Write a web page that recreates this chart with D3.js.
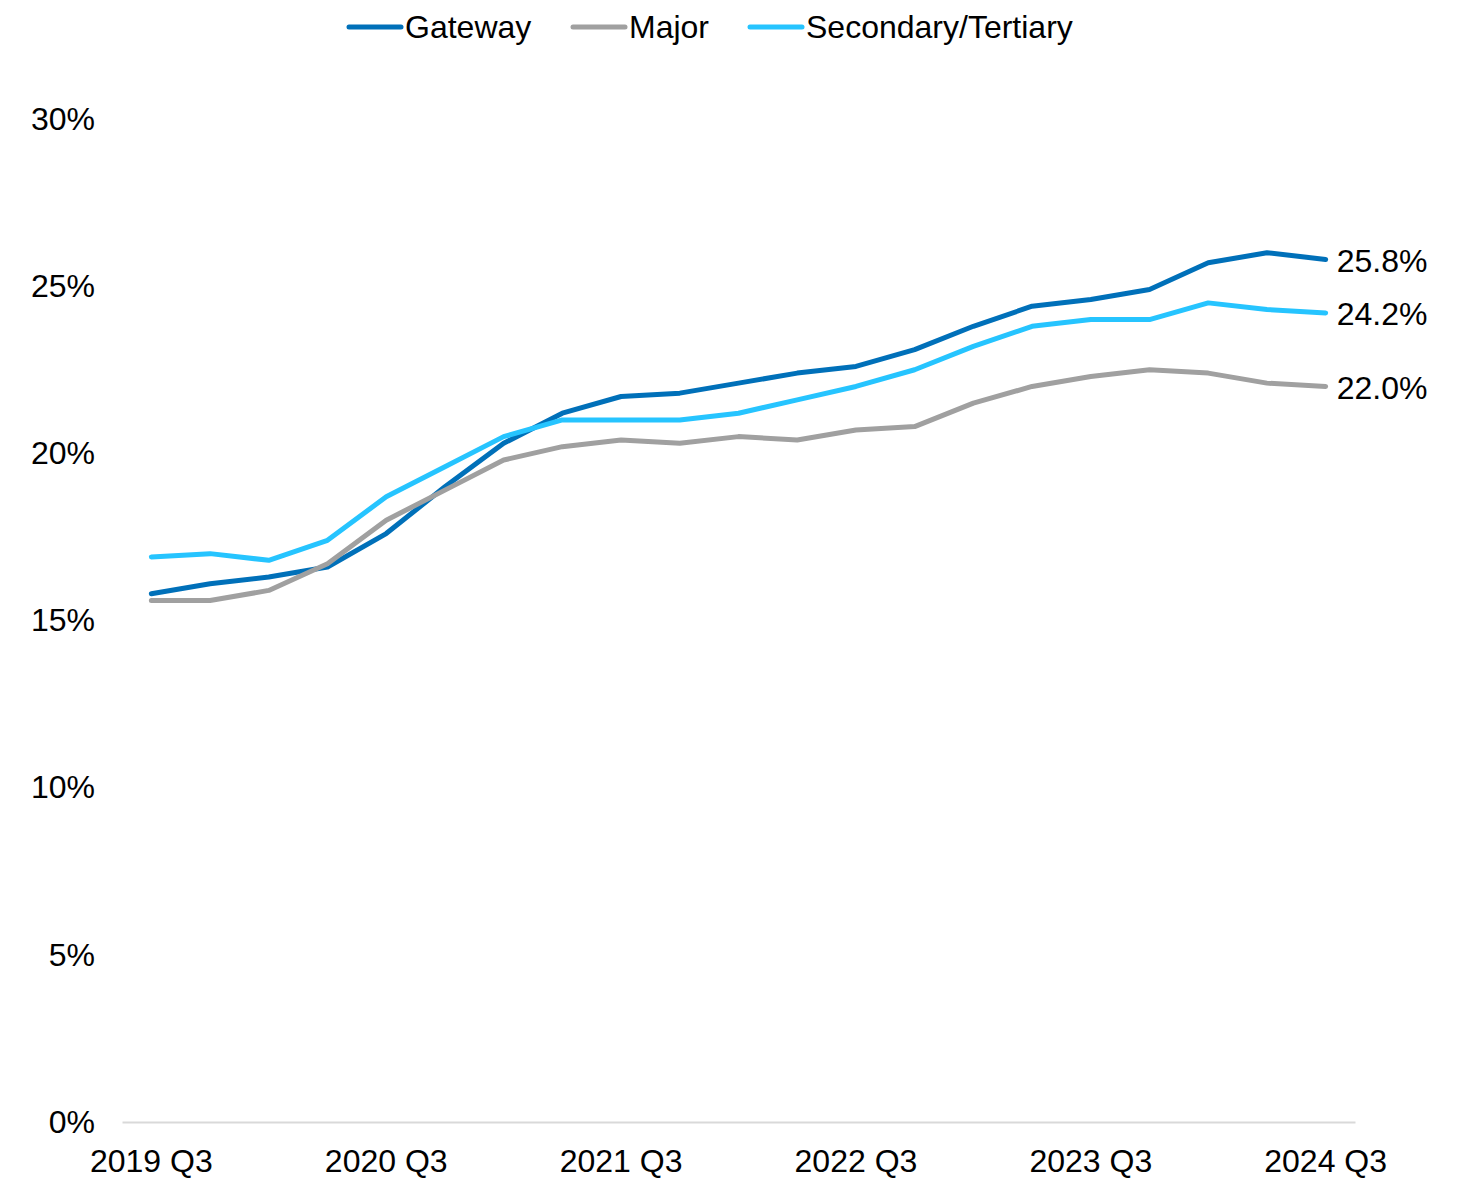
<!DOCTYPE html>
<html>
<head>
<meta charset="utf-8">
<script src="https://cdn.jsdelivr.net/npm/d3@7"></script>
<style>
  body { margin: 0; background: #fff; }
  text { font-family: "Liberation Sans", Arial, sans-serif; fill: #000; }
</style>
</head>
<body>
<div id="chart"></div>
<script>
// Quarters from 2019 Q3 to 2024 Q3
var quarters = ["2019 Q3", "2019 Q4", "2020 Q1", "2020 Q2", "2020 Q3", "2020 Q4",
                "2021 Q1", "2021 Q2", "2021 Q3", "2021 Q4", "2022 Q1", "2022 Q2",
                "2022 Q3", "2022 Q4", "2023 Q1", "2023 Q2", "2023 Q3", "2023 Q4",
                "2024 Q1", "2024 Q2", "2024 Q3"];

var gateway = [15.8, 16.1, 16.3, 16.6, 17.6, 19.0, 20.3, 21.2, 21.7, 21.8, 22.1,
               22.4, 22.6, 23.1, 23.8, 24.4, 24.6, 24.9, 25.7, 26.0, 25.8];
var major = [15.6, 15.6, 15.9, 16.7, 18.0, 18.9, 19.8, 20.2, 20.4, 20.3, 20.5,
             20.4, 20.7, 20.8, 21.5, 22.0, 22.3, 22.5, 22.4, 22.1, 22.0];
var secondary = [16.9, 17.0, 16.8, 17.4, 18.7, 19.6, 20.5, 21.0, 21.0, 21.0, 21.2,
                 21.6, 22.0, 22.5, 23.2, 23.8, 24.0, 24.0, 24.5, 24.3, 24.2];

var xTickLabels = ["2019 Q3", "2020 Q3", "2021 Q3", "2022 Q3", "2023 Q3", "2024 Q3"];
var yTicks = [0, 5, 10, 15, 20, 25, 30];

var series = [
  {name: "Gateway", values: gateway, color: "#0070b9"},
  {name: "Major", values: major, color: "#a0a0a0"},
  {name: "Secondary/Tertiary", values: secondary, color: "#26c4ff"}
];

var width = 1467, height = 1179;
var fontSize = 32;

var svg = d3.select("#chart").append("svg")
    .attr("width", width)
    .attr("height", height);

// Scales
var x = d3.scaleBand()
    .domain(quarters)
    .range([122, 1355])
    .padding(0);
var xc = function(q) { return x(q) + x.bandwidth() / 2; };

var y = d3.scaleLinear()
    .domain([0, 30])
    .range([1122, 119]);

// Baseline axis
var xAxis = svg.append("g")
    .attr("transform", "translate(0," + y(0) + ")")
    .call(d3.axisBottom(x).tickValues(xTickLabels).tickSize(0).tickPadding(27));
xAxis.select(".domain").attr("stroke", "#d9d9d9").attr("stroke-width", 2);
xAxis.selectAll("text")
    .style("font-size", fontSize + "px")
    .style("font-family", "'Liberation Sans', Arial, sans-serif")
    .attr("fill", "#000");

// Y axis labels
var yAxis = svg.append("g")
    .attr("transform", "translate(95,0)")
    .call(d3.axisLeft(y).tickValues(yTicks).tickSize(0).tickPadding(0)
      .tickFormat(function(d) { return d + "%"; }));
yAxis.select(".domain").remove();
yAxis.selectAll("text")
    .style("font-size", fontSize + "px")
    .style("font-family", "'Liberation Sans', Arial, sans-serif")
    .attr("fill", "#000");

// Lines
var line = d3.line()
    .x(function(d, i) { return xc(quarters[i]); })
    .y(function(d) { return y(d); });

svg.selectAll(".series")
    .data(series)
  .enter().append("path")
    .attr("class", "series")
    .attr("fill", "none")
    .attr("stroke", function(d) { return d.color; })
    .attr("stroke-width", 5)
    .attr("stroke-linecap", "round")
    .attr("stroke-linejoin", "round")
    .attr("d", function(d) { return line(d.values); });

// End labels
var last = quarters.length - 1;
svg.selectAll(".end-label")
    .data(series)
  .enter().append("text")
    .attr("class", "end-label")
    .attr("x", xc(quarters[last]) + 11)
    .attr("y", function(d) { return y(d.values[last]) + 1; })
    .attr("dy", "0.35em")
    .style("font-size", fontSize + "px")
    .text(function(d) { return d.values[last].toFixed(1) + "%"; });

// Legend
var legendX = [347, 571, 748];
var legend = svg.selectAll(".legend")
    .data(series)
  .enter().append("g")
    .attr("class", "legend")
    .attr("transform", function(d, i) { return "translate(" + legendX[i] + ",27)"; });

legend.append("line")
    .attr("x1", 2).attr("x2", 54)
    .attr("y1", 0).attr("y2", 0)
    .attr("stroke", function(d) { return d.color; })
    .attr("stroke-width", 5)
    .attr("stroke-linecap", "round");

legend.append("text")
    .attr("x", 58)
    .attr("dy", "0.35em")
    .style("font-size", fontSize + "px")
    .text(function(d) { return d.name; });
</script>
</body>
</html>
